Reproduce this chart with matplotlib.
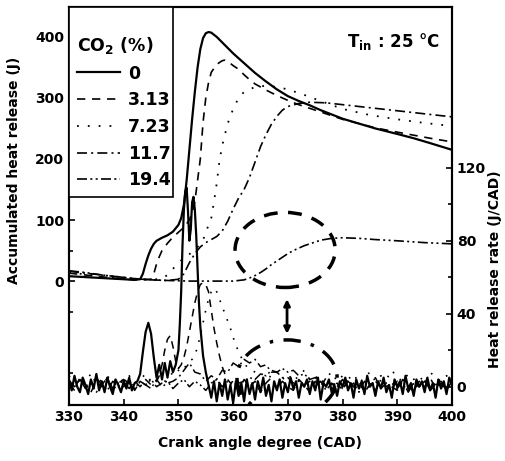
import numpy as np
import matplotlib
matplotlib.use("Agg")
import matplotlib.pyplot as plt
from matplotlib.patches import Ellipse, Rectangle

plt.rcParams['font.family'] = ['DejaVu Sans']
plt.rcParams['font.weight'] = 'bold'
plt.rcParams['axes.labelweight'] = 'bold'
plt.rcParams['mathtext.fontset'] = 'dejavusans'

co2_labels = ["0", "3.13", "7.23", "11.7", "19.4"]

# accumulated heat release (J)
cad_acc_0 = [330, 332, 334, 336, 338, 340, 342, 343, 343.5, 344, 344.5, 345, 345.5, 346, 347, 348, 349, 350,
             350.5, 351, 351.5, 352, 352.5, 353, 353.5, 354, 354.5, 355, 355.5, 356, 357, 358, 360, 362, 364,
             366, 368, 370, 372, 374, 376, 378, 380, 383, 386, 390, 393, 396, 400]
acc_0 = [8, 7, 6, 5, 4, 3, 2, 3, 12, 28, 42, 53, 61, 66, 71, 75, 81, 92,
         103, 125, 165, 215, 265, 310, 350, 380, 398, 406, 408, 407, 400, 391, 373, 357, 341,
         327, 314, 303, 295, 288, 280, 273, 266, 258, 250, 241, 234, 226, 215]

cad_acc_1 = [330, 333, 336, 339, 342, 345, 345.5, 346, 346.5, 347, 348, 349, 350, 351, 352, 352.5, 353, 353.5,
             354, 354.5, 355, 355.5, 356, 357, 358, 358.5, 359, 360, 361, 362, 363, 364, 366, 368, 370, 372,
             375, 378, 380, 383, 386, 390, 393, 396, 400]
acc_1 = [13, 10, 7, 4, 2, 3, 12, 28, 40, 50, 62, 72, 80, 88, 100, 112, 130, 165,
         200, 260, 300, 325, 342, 355, 361, 362, 360, 353, 347, 338, 330, 323, 313, 304, 296, 289,
         280, 271, 265, 258, 251, 244, 239, 234, 228]

cad_acc_2 = [330, 333, 336, 339, 342, 345, 347, 348, 349, 350, 351, 352, 353, 354, 354.5, 355, 356, 356.5,
             357, 357.5, 358, 359, 360, 361, 362, 364, 366, 368, 370, 373, 376, 380, 385, 390, 395, 400]
acc_2 = [14, 11, 8, 5, 3, 2, 4, 10, 20, 30, 38, 44, 52, 60, 67, 80, 103, 130,
         160, 197, 222, 258, 282, 300, 310, 318, 320, 318, 314, 305, 295, 282, 272, 265, 259, 254]

cad_acc_3 = [330, 333, 336, 339, 342, 345, 348, 350, 351, 352, 353, 354, 355, 356, 357, 358, 359, 360,
             361, 362, 363, 364, 365, 366, 367, 368, 369, 370, 372, 374, 377, 380, 385, 390, 395, 400]
acc_3 = [16, 13, 10, 7, 4, 2, 1, 3, 12, 30, 45, 56, 63, 68, 73, 82, 98, 118,
         136, 150, 170, 195, 220, 240, 257, 270, 280, 286, 291, 293, 292, 289, 284, 279, 274, 269]

cad_acc_4 = [330, 333, 336, 339, 342, 345, 348, 352, 356, 360, 362, 363, 364, 365, 366, 367, 368, 369,
             370, 371, 372, 373, 374, 375, 376, 378, 380, 383, 386, 390, 395, 400]
acc_4 = [17, 14, 10, 7, 4, 2, 1, 0, 0, 0, 2, 5, 9, 14, 20, 27, 33, 39,
         45, 50, 54, 58, 61, 64, 67, 70, 71, 70, 68, 66, 63, 61]

# heat release rate (J/CAD); (start, step, values) pieces
rate_0 = [
    (330.0, 0.5, [3, -2, 6, 0, -3, 5, 1, -4, 4, -1, 7, -2, 3, -3, 5, 0, -4, 4, 1, -3,
                  3, -1, 5, -2, 2, 3, 7, 19, 30, 35, 29, 16, 5, 12, 4, 13, 5, 14, 8, 12, 20]),
    (350.25, 0.25, [34, 52, 78, 97, 107, 109, 96, 80, 86, 101, 104, 97, 83, 65, 46, 33]),
    (354.5, 0.5, [17, 8, 1, -6, 3, -8, 2, -5, 4, -7, 1, -9, 3, -5, 2, -8, 4, -4, 2, -7,
                  3, -3, 5, -5, 1, -8, 3, -2, 4, -6, 2, -3, 5, -1, 3, -6, 2, 0, 4, -4,
                  3, -2, 5, -7, 2, 0, 4, -3, 1, -5, 3, 0, 5, -2, 2, -6, 4, -1, 3, -4,
                  6, 0, 2, -5, 3, -1, 5, -3, 1, -6, 4, 0, 3, -4, 6, -1, 2, -5, 4, 0,
                  3, -3, 5, -2, 2, -6, 4, -1, 3, -4, 5, 1]),
]
rate_1 = [
    (330.0, 1.0, [4, -1, 5, 1, -3, 3, 0, 5, -2, 2, 4, -1, 3, 0, 4, 1, 3]),
    (346.5, 0.5, [6, 12, 20, 26, 28, 22, 14, 10, 12, 16, 22, 30, 38, 46, 52, 56, 57, 56, 52, 42,
                  32, 24, 17, 11, 7, 4, 2, 3]),
    (361.0, 1.0, [-2, 4, 0, 3, -3, 2, 5, -1, 3, 0, -2, 4, 1, -3, 3, 0, 5, -1, 2, -2,
                  4, 0, 3, -3, 1, 5, -1, 2, 0, -2, 4, 1, -3, 3, 0, 5, -1, 2, -2, 3]),
]
rate_2 = [
    (330.0, 1.0, [6, 2, 5, 3, 7, 1, 4, 6, 2, 5, 3, 6, 2, 4, 7, 3, 5, 2, 4]),
    (348.5, 0.5, [6, 8, 10, 9, 8, 10, 12, 14, 15, 17, 22, 28, 35, 42, 48, 52, 54, 52, 48, 44,
                  40, 36, 32, 27, 23, 19, 16, 13, 11, 10, 9, 8, 7, 8, 6, 7]),
    (367.0, 1.0, [5, 8, 4, 7, 3, 6, 9, 4, 6, 2, 5, 8, 3, 6, 4, 7, 2, 5, 8, 3,
                  6, 4, 9, 5, 3, 7, 4, 6, 2, 8, 5, 3, 6, 4]),
]
rate_3 = [
    (330.0, 1.0, [2, -2, 4, 0, 3, -3, 1, 5, -1, 2, 0, 4, -2, 3, 1, -1, 4, 0, 2, 3, 5]),
    (351.0, 1.0, [9, 13, 8, 7, 3, 6, 4, 9, 8, 13, 11, 15, 13, 15, 11, 12, 8, 8, 5, 5,
                  2, 3, 1, 3, 0]),
    (376.0, 1.0, [3, -2, 2, 0, 4, -1, 2, -3, 3, 1, -2, 4, 0, 2, -1, 3, -3, 2, 0, 4,
                  -2, 1, 3, -1, 2]),
]
rate_4 = [
    (330.0, 1.0, [3, 0, 4, -1, 2, 5, 1, -2, 3, 0, 4, 2, -1, 3, 1, 4, 0, 2, 3, -1,
                  2, 4, 0, 3, 1, -2, 2, 4, 0, 3, 1, 2, 3]),
    (363.0, 1.0, [5, 4, 7, 6, 9, 8, 10, 8, 9, 6, 7, 4, 5, 2, 3, 1]),
    (379.0, 1.0, [2, -1, 3, 0, 2, -2, 1, 3, 0, 2, -1, 3, 1, -2, 2, 0, 3, -1, 2, 1,
                  -1, 2]),
]


def join(pieces):
    xs, ys = [], []
    for start, step, vals in pieces:
        xs.extend(start + step * np.arange(len(vals)))
        ys.extend(vals)
    return np.array(xs), np.array(ys)


acc_x = [cad_acc_0, cad_acc_1, cad_acc_2, cad_acc_3, cad_acc_4]
acc_y = [acc_0, acc_1, acc_2, acc_3, acc_4]
rates = [rate_0, rate_1, rate_2, rate_3, rate_4]

styles = ['-', (0, (5, 4)), (0, (1, 5)), (0, (6, 2.5, 1.2, 2.5)), (0, (6, 2, 1.2, 2, 1.2, 2))]
widths = [1.6, 1.2, 1.3, 1.2, 1.2]
rate_widths = [1.6, 1.1, 1.2, 1.1, 1.1]

fig = plt.figure(figsize=(5.06, 4.61), dpi=100)
ax = fig.add_axes([69 / 506, 1 - 405 / 461, 383 / 506, 398 / 461])
ax2 = ax.twinx()

handles = []
for i in range(5):
    h, = ax.plot(acc_x[i], acc_y[i], color='black', ls=styles[i], lw=widths[i])
    handles.append(h)
    rx, ry = join(rates[i])
    ax2.plot(rx, ry, color='black', ls=styles[i], lw=rate_widths[i])

ax.set_xlim(330, 400)
ax.set_ylim(-203, 449)
ax2.set_ylim(-10, 208)

ax.set_xticks(range(330, 401, 10))
ax.set_yticks([0, 100, 200, 300, 400])
ax.set_yticks([-150, -50, 50, 150, 250, 350], minor=True)
ax2.set_yticks([0, 40, 80, 120])
ax2.set_yticks([20, 60, 100], minor=True)
for a in (ax, ax2):
    a.tick_params(which='both', direction='in', labelsize=10, width=1.2)
    a.tick_params(which='major', length=4)
    a.tick_params(which='minor', length=3)
    for s in a.spines.values():
        s.set_linewidth(1.5)

ax.set_xlabel("Crank angle degree (CAD)", fontsize=10)
ax.xaxis.set_label_coords(0.5, -0.078)
ax.set_ylabel("Accumulated heat release (J)", fontsize=10)
ax.yaxis.set_label_coords(-0.125, 0.59)
ax2.set_ylabel("Heat release rate (J/CAD)", fontsize=10)
ax2.yaxis.set_label_coords(1.094, 0.34)

# annotations
ax.add_patch(Ellipse((369.5, 51), 18.3, 123, fill=False, ec='black', lw=2.5, ls=(0, (4, 3))))
ax2.add_patch(Ellipse((369.85, 4.9), 18.3, 41.5, fill=False, ec='black', lw=2.5, ls=(0, (5, 3, 1, 3))))
ax2.annotate('', xy=(369.85, 48), xytext=(369.85, 29),
             arrowprops=dict(arrowstyle='<|-|>', lw=2, color='black', mutation_scale=9,
                             shrinkA=0, shrinkB=0))

ax.text(0.726, 0.9, r"$\mathbf{T_{in}}$ : 25 °C", transform=ax.transAxes,
        fontsize=12, ha='left', va='baseline')

# legend box spans the upper-left corner of the axes
ax2.add_patch(Rectangle((0, 0.5226), 0.2715, 0.4774, transform=ax2.transAxes,
                        fill=True, fc='white', ec='black', lw=1.2, zorder=4))
leg = ax2.legend(handles, co2_labels, loc='upper left', bbox_to_anchor=(0.021, 0.93),
                 borderaxespad=0, borderpad=0, frameon=False,
                 prop={'weight': 'bold', 'size': 12.5}, title=r"CO$_\mathbf{2}$ (%)",
                 title_fontproperties={'weight': 'bold', 'size': 12.5}, alignment='left',
                 handlelength=2.5, handletextpad=0.45, labelspacing=0.5)
leg.set_zorder(5)

fig.savefig("out.png", dpi=100)
